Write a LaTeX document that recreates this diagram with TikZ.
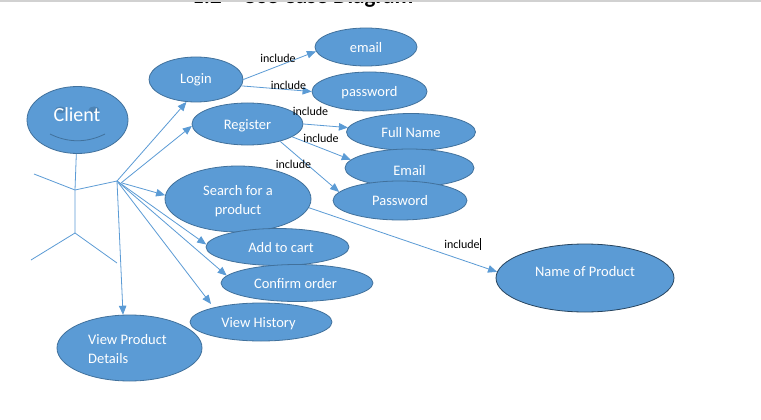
\documentclass[tikz,border=0pt]{standalone}
\usepackage{fontspec}
\setmainfont{Carlito}
\usetikzlibrary{shapes.geometric, arrows.meta}
\definecolor{casefill}{HTML}{5B9BD5}
\definecolor{caseline}{HTML}{41719C}
\tikzset{
    usecase/.style 2 args={ellipse, draw=caseline, fill=casefill, line width=0.8pt, text=white,
        inner sep=0pt, minimum width=#1pt, minimum height=#2pt, align=center, font=\fontsize{14.5}{19}\selectfont},
    single/.style={text height=10.5pt, text depth=0pt},
    limb/.style={draw=casefill, line width=0.8pt},
    assoc/.style={draw=casefill, line width=0.8pt, -{Triangle[length=9pt, width=7.5pt]}},
    incl/.style={text=black, inner sep=0pt, font=\fontsize{12}{14}\selectfont}
}

\begin{document}
\begin{tikzpicture}[x=1pt, y=-1pt]
    \clip (0, 0) rectangle (761, 420);
    \fill[white] (0, 0) rectangle (761, 420);
    \node[anchor=base west, inner sep=0pt, font=\fontsize{23}{23}\bfseries\selectfont] (title) at (192, 4) {1.2\hspace{21pt}Use Case Diagram};
    \draw[black!18, line width=1.2pt] (0, 1) -- (761, 1);

    % stick figure
    \node[usecase={101}{67}] (head) at (77.5, 120) {};
    \fill[caseline!55!casefill] (60.5, 110) ellipse (5.5 and 3.5);
    \fill[caseline!55!casefill] (94, 110) ellipse (5.5 and 3.5);
    \node[text=white, inner sep=0pt, font=\fontsize{20}{24}\selectfont] (client) at (77, 115) {Client};
    \draw[caseline, line width=0.8pt] (50, 134) .. controls (68, 143) and (87, 143) .. (105, 134);
    \coordinate (shoulder) at (75, 190);
    \coordinate (hip) at (75, 233);
    \coordinate (handl) at (34, 174);
    \coordinate (hub) at (117, 181);
    \coordinate (footl) at (31, 260);
    \coordinate (footr) at (117, 263);
    \draw[limb] (head.268) -- (shoulder) -- (hip);
    \draw[limb] (handl) -- (shoulder) -- (hub);
    \draw[limb] (footl) -- (hip) -- (footr);

    % use cases
    \node[usecase={94}{45}, single] (login) at (196, 79.5) {\raisebox{1pt}{Login}};
    \node[usecase={111}{42}, single] (register) at (247.5, 124) {Register};
    \node[usecase={102}{38}, single] (email) at (366, 47) {email};
    \node[usecase={115}{39}, single] (password) at (369.5, 91.5) {password};
    \node[usecase={129}{37}, single] (fullname) at (411, 132) {Full Name};
    \node[usecase={129}{38}, single] (emailb) at (409.5, 168) {\raisebox{-2pt}{Email}};
    \node[usecase={134}{39}, single] (passwordb) at (400, 200.5) {Password};
    \node[usecase={146}{66}] (search) at (238, 199) {\rule{0pt}{14pt}Search for a\\product};
    \node[usecase={143}{37}, single] (cart) at (277.5, 247) {\hspace*{7pt}Add to cart};
    \node[usecase={152}{37}, single] (confirm) at (297, 283) {\hspace*{-3pt}Confirm order};
    \node[usecase={142}{38}, single] (history) at (261, 322) {\hspace*{-5pt}View History};
    \node[usecase={145}{66}] (details) at (129.5, 348) {\hspace*{-4pt}\begin{tabular}{@{}l@{}}\rule{0pt}{17pt}View Product\\Details\end{tabular}};
    \node[usecase={178}{68}, draw=caseline!60!black] (product) at (585, 278) {\raisebox{2pt}[0pt][0pt]{Name of Product}};

    % actor to use cases
    \coordinate (historyend) at (211, 304);
    \draw[assoc] (hub) -- (login.247);
    \draw[assoc] ([xshift=4pt, yshift=-2pt]hub) -- (register.182);
    \draw[assoc] ([xshift=5pt, yshift=-2pt]hub) -- (search.177);
    \draw[assoc] (hub) -- (cart.178);
    \draw[assoc] (hub) -- (confirm.174);
    \draw[assoc] (hub) -- (historyend);
    \draw[assoc] (hub) -- (details.101);

    % includes
    \draw[assoc] (login.0) -- (email.185);
    \draw[assoc] (login.352) -- (password.180);
    \draw[assoc] (register.0) -- (fullname.176);
    \draw[assoc] (register.344) -- (emailb.172);
    \draw[assoc] (register.332) -- (passwordb.172);
    \draw[assoc] (search.353) -- (product.176);
    \node[incl] (inca) at (278, 58) {include};
    \node[incl] (incb) at (288.5, 85) {include};
    \node[incl] (incc) at (310.5, 111) {include};
    \node[incl] (incd) at (321, 138) {include};
    \node[incl] (ince) at (293.5, 164) {include};
    \node[incl] (incf) at (462, 244) {include};
    \draw[black, line width=0.8pt] (incf.east) ++(0.5, -6) -- ++(0, 12);
\end{tikzpicture}
\end{document}
